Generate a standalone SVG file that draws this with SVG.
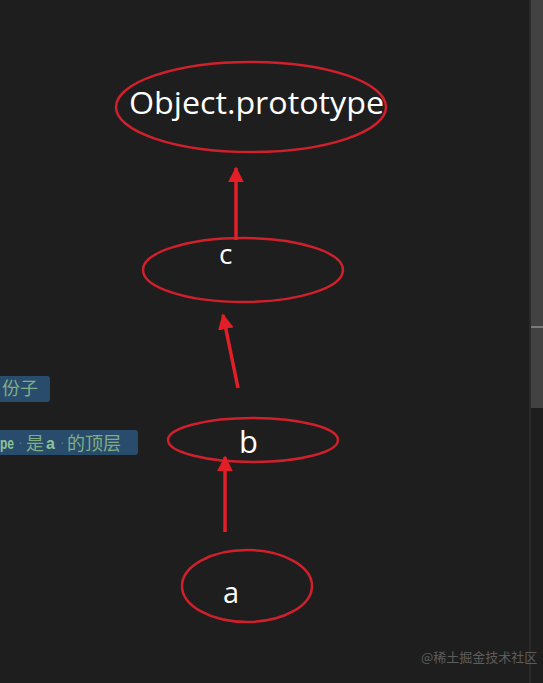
<svg xmlns="http://www.w3.org/2000/svg" width="543" height="683" viewBox="0 0 543 683">
<defs>
<style>
.node ellipse{fill:none;stroke:#d0202c;stroke-width:2.5}
.lbl{fill:#ffffff;font-family:"Open Sans","Liberation Sans",sans-serif}
.conn line{stroke:#e41e26;stroke-width:3.5}
.hl{fill:#2a4c6c}
.hlt{fill:#7fae86;font-family:"Noto Sans CJK SC","Noto Sans",sans-serif;font-size:18px}
.mono{font-weight:bold;font-family:"Liberation Sans",sans-serif;font-size:16px;fill:#8cc49a}
.dot{fill:#56758c;font-family:"Liberation Sans",sans-serif;font-size:14px}
</style>
<marker id="ah" viewBox="0 0 10 10" refX="9" refY="5" markerWidth="4.5" markerHeight="4.5" orient="auto" markerUnits="strokeWidth">
<path d="M0,0 L10,5 L0,10 Z" fill="#e41e26"/>
</marker>
</defs>
<rect width="543" height="683" fill="#1e1e1e"/>
<rect x="529" y="0" width="2" height="683" fill="#2a2a2a"/>
<rect x="531" y="0" width="12" height="408" fill="#424242"/>
<rect x="531" y="326" width="12" height="2" fill="#7a7a7a"/>
<g id="hl1">
<rect class="hl" x="-4" y="376" width="54" height="26" rx="3"/>
<text class="hlt" x="2" y="395">份子</text>
</g>
<g id="hl2">
<rect class="hl" x="-4" y="430" width="142" height="25" rx="3"/>
<text class="mono" x="0" y="449" textLength="14" lengthAdjust="spacingAndGlyphs">pe</text>
<text class="dot" x="18" y="447">·</text>
<text class="hlt" x="26" y="450" font-size="19">是</text>
<text class="mono" x="46" y="449">a</text>
<text class="dot" x="60" y="447">·</text>
<text class="hlt" x="67" y="450" font-size="20">的顶层</text>
</g>
<g id="n-object" class="node">
<ellipse cx="251" cy="107" rx="135" ry="45"/>
<text class="lbl" x="129" y="114" font-size="31" textLength="255" lengthAdjust="spacingAndGlyphs">Object.prototype</text>
</g>
<g id="n-c" class="node">
<ellipse cx="243" cy="270" rx="100" ry="32"/>
<text class="lbl" x="219" y="264" font-size="28">c</text>
</g>
<g id="n-b" class="node">
<ellipse cx="253" cy="440" rx="85" ry="22"/>
<text class="lbl" x="239" y="453" font-size="31">b</text>
</g>
<g id="n-a" class="node">
<ellipse cx="247" cy="586" rx="65" ry="36"/>
<text class="lbl" x="223" y="603" font-size="29">a</text>
</g>
<g id="connectors" class="conn">
<line x1="236" y1="240" x2="236" y2="168" marker-end="url(#ah)"/>
<line x1="238" y1="388" x2="223" y2="315" marker-end="url(#ah)"/>
<line x1="225" y1="532" x2="225" y2="457" marker-end="url(#ah)"/>
</g>
<text x="421" y="662" fill="#5c5c5c" font-size="13" font-family="'Noto Sans CJK SC',sans-serif">@稀土掘金技术社区</text>
</svg>
